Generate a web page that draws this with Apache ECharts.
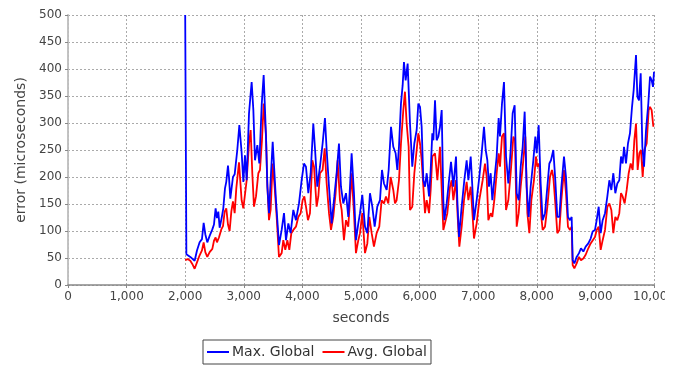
<!DOCTYPE html>
<html><head><meta charset="utf-8">
<script src="https://cdn.jsdelivr.net/npm/echarts@6/dist/echarts.min.js"></script>
<style>html,body{margin:0;padding:0;background:#fff}#c{width:684px;height:369px}</style>
</head><body><div id="c"></div>
<script>
const xTicks = [0,1000,2000,3000,4000,5000,6000,7000,8000,9000,10000];
const yTicks = [0,50,100,150,200,250,300,350,400,450,500];
const seriesNames = ["Max. Global","Avg. Global"];

const maxT = [2000,2020,2042,2087,2121,2161,2201,2246,2286,2315,2343,2377,2417,2463,2491,2519,2542,2565,2588,2622,2650,2679,2701,2730,2747,2770,2815,2844,2889,2924,2964,2992,3020,3049,3089,3134,3163,3191,3231,3265,3305,3339,3379,3402,3430,3458,3493,3549,3601,
3646,3686,3720,3760,3799,3845,3890,3942,3987,4027,4061,4101,4141,4186,4220,4254,4300,4345,4385,4414,4454,4499,4545,4584,4624,4658,4698,4744,4783,4812,4840,4880,4914,4954,4983,5022,5068,5108,5153,5193,5233,5278,5324,5358,5392,5438,5472,5512,5551,5591,5620,5648,5682,5711,5733,5762,5796,5836,5875,5910,5950,5978,6007,
6035,6064,6092,6121,6161,6189,6217,6235,6263,6291,6320,6348,6377,6405,6422,6462,6508,6536,6576,6621,6644,6672,6718,6763,6803,6832,6872,6900,6928,6974,7019,7059,7099,7128,7156,7184,7213,7241,7275,7315,7349,7372,7406,7440,7475,7514,7554,7588,7622,7657,7691,7725,7759,7793,7827,7861,7895,7941,7975,7998,8032,8066,8100,8140,8180,8214,8242,8282,8316,8350,8385,8419,8464,8498,8532,8567,8595,8612,8641,8680,8720,8754,8794,8834,8879,8919,8953,8993,9022,9056,9090,9124,9164,9204,9238,9272,9306,9340,9374,9408,9437,9465,9488,9522,9556,9590,9625,9653,9693,9716,9744,9773,9801,9830,9864,9903,9932,9960,9983,10000];
const maxV = [500,57,55,52,55,45,64,79,85,115,94,79,91,103,112,142,124,136,106,124,142,179,191,221,200,160,200,205,250,296,244,191,240,194,318,376,324,231,259,225,333,389,275,182,133,194,265,157,74,
102,133,83,114,96,139,120,151,194,225,219,170,207,299,244,182,219,262,309,250,182,114,164,207,262,182,151,170,126,182,244,170,83,114,133,167,108,96,170,145,108,145,157,213,188,176,213,293,256,244,213,256,336,370,413,379,410,299,219,262,287,336,330,
293,194,182,207,164,213,281,268,342,268,275,293,324,157,120,151,200,228,182,238,157,89,145,194,231,194,238,182,120,157,200,244,293,250,231,182,207,157,194,238,309,275,336,376,238,188,250,318,333,170,157,219,256,321,182,126,182,231,275,244,296,188,120,133,182,225,231,250,194,126,126,182,238,200,126,120,126,46,40,52,59,68,62,71,77,86,99,102,120,145,96,120,133,164,194,176,207,170,188,194,238,225,256,225,262,281,330,361,426,349,342,392,256,219,287,336,386,379,367,395];

const avgT = [2000,2042,2087,2121,2161,2201,2246,2286,2315,2343,2377,2417,2463,2491,2519,2542,2576,2616,2645,2673,2701,2730,2758,2787,2815,2844,2872,2918,
2963,2992,3020,3049,3089,3117,3145,3174,3208,3248,3276,3310,3339,3379,3401,3430,3458,3492,3526,3561,3600,3646,3674,3708,3743,3777,3811,3845,3890,3930,3970,4004,4033,4061,4095,4129,4169,4198,4243,4272,4300,4345,4380,4414,4454,4488,4527,4567,4601,4641,4670,4709,4744,4783,4812,4840,4880,4914,4954,4983,5022,5068,5108,5142,5182,5221,5267,5312,5352,5392,5426,5466,5506,5551,5580,5608,5648,5682,5722,5750,5779,5813,5836,5875,5910,5950,5978,6007,
6035,6064,6092,6121,6161,6189,6217,6263,6303,6348,6377,6405,6434,6473,6519,6547,6576,6621,6650,6678,6718,6758,6803,6832,6872,6906,6928,6974,7019,7076,7116,7145,7173,7213,7241,7275,7315,7349,7372,7406,7440,7475,7514,7554,7600,7628,7657,7691,7725,7770,7804,7839,7873,7907,7952,7986,8009,8043,8077,8100,8140,8180,8225,8259,8282,8316,8350,8385,8419,8464,8498,8532,8567,8595,8612,8641,8680,8720,8754,8794,8834,8879,8919,8953,8993,9022,9056,9090,9124,9164,9204,9238,9272,9306,9340,9374,9408,9437,9465,9499,9534,9568,9602,9636,9664,9693,9721,9750,9778,9807,9835,9875,9909,9932,9960,9989];
const avgV = [46,48,45,39,30,42,55,64,79,61,52,61,67,82,88,79,88,103,109,136,142,112,100,136,155,133,179,227,
157,142,145,194,262,287,207,145,164,207,213,268,336,275,188,120,139,225,182,126,52,59,83,65,83,65,96,102,108,126,133,157,164,145,120,133,231,219,145,164,207,213,253,188,133,102,126,170,231,157,139,83,120,108,157,207,133,59,83,96,133,59,77,126,96,71,96,108,157,151,164,151,200,176,151,157,194,262,324,358,299,256,139,145,207,250,281,262,
231,182,133,157,133,176,238,244,194,256,256,102,102,133,182,194,157,194,126,71,108,157,191,157,182,126,86,114,157,194,225,200,120,133,126,157,207,244,219,275,281,139,157,207,275,268,108,133,182,231,275,133,96,157,194,238,219,225,126,102,108,145,200,213,200,151,96,102,157,213,170,108,102,108,37,31,40,52,46,49,56,68,77,80,89,102,108,65,83,102,145,151,139,96,126,120,133,170,164,151,176,207,225,213,268,299,213,244,250,200,250,262,324,330,324,293];

const maxData = maxT.map((t,i)=>[t,maxV[i]]);
const avgData = avgT.map((t,i)=>[t,avgV[i]]);

const chart = echarts.init(document.getElementById('c'), null, {renderer:'canvas'});
const FONT = 'DejaVu Sans';
const fmt = v => Number(v).toLocaleString('en-US');
chart.setOption({
  animation:false,
  backgroundColor:'#fff',
  textStyle:{fontFamily:FONT},
  grid:{left:68,right:30,top:15,bottom:84,containLabel:false},
  legend:{
    data:seriesNames, left:203, top:340, orient:'horizontal',
    icon:'rect', itemWidth:22, itemHeight:2, itemGap:8,
    padding:[5,4,5,4], borderColor:'#444', borderWidth:1,
    textStyle:{fontFamily:FONT,fontSize:14,color:'#333',padding:[0,0,0,-2]}
  },
  xAxis:{
    type:'value', min:0, max:10000, interval:1000,
    name:'seconds', nameLocation:'middle', nameGap:26,
    nameTextStyle:{fontFamily:FONT,fontSize:14,color:'#444'},
    axisLine:{show:true,onZero:false,lineStyle:{color:'#888',width:1.5}},
    axisTick:{show:true,length:3,lineStyle:{color:'#888'}},
    axisLabel:{formatter:fmt,fontFamily:FONT,fontSize:12,color:'#444',margin:6,showMaxLabel:true},
    splitLine:{show:true,lineStyle:{color:'#aaa',type:[2,2],width:1}}
  },
  yAxis:[{
    type:'value', min:0, max:500, interval:50,
    name:'error (microseconds)', nameLocation:'middle', nameGap:40,
    nameTextStyle:{fontFamily:FONT,fontSize:14,color:'#444'},
    axisLine:{show:true,onZero:false,lineStyle:{color:'#888',width:1.5}},
    axisTick:{show:true,length:3,lineStyle:{color:'#888'}},
    axisLabel:{fontFamily:FONT,fontSize:12,color:'#444',margin:6},
    splitLine:{show:true,lineStyle:{color:'#aaa',type:[2,2],width:1}}
  },{
    type:'value', min:0, max:500, interval:50, position:'right',
    axisLine:{show:true,lineStyle:{color:'#ccc',width:1.5}},
    axisTick:{show:false}, axisLabel:{show:false}, splitLine:{show:false}
  }],
  graphic:[{type:'rect',shape:{x:665,y:288,width:19,height:22},style:{fill:'#fff'},z:100}],
  series:[
    {name:'Avg. Global',type:'line',data:avgData,showSymbol:false,symbol:'none',
     lineStyle:{color:'#ff0000',width:1.8},itemStyle:{color:'#ff0000'},z:2},
    {name:'Max. Global',type:'line',data:maxData,showSymbol:false,symbol:'none',
     lineStyle:{color:'#0000ff',width:1.8},itemStyle:{color:'#0000ff'},z:3}
  ]
});
</script></body></html>
